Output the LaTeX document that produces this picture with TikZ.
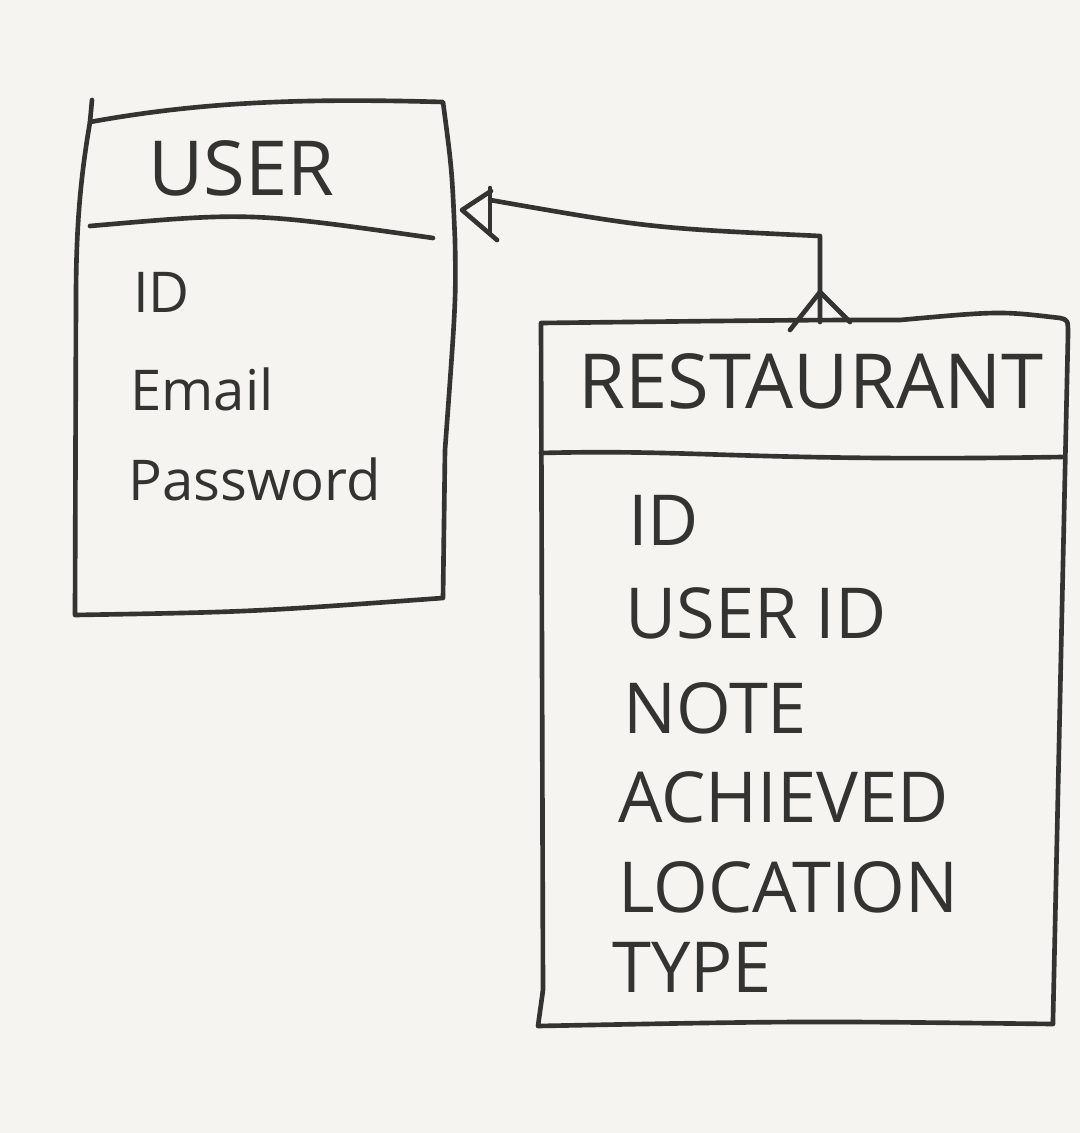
\documentclass[tikz,border=0pt]{standalone}
\usepackage{fontspec}
\setmainfont{Open Sans}
\usetikzlibrary{calc}
\definecolor{paper}{HTML}{F5F4F0}
\definecolor{ink}{HTML}{333331}

\begin{document}
\begin{tikzpicture}[x=0.025cm,y=-0.025cm,
  pen/.style={draw=ink,line width=3.3pt,line cap=round,line join=round},
  title/.style={inner sep=0pt,anchor=base west,text=ink,font=\fontsize{54}{58}\selectfont},
  ufield/.style={inner sep=0pt,anchor=base west,text=ink,font=\fontsize{40}{44}\selectfont},
  rfield/.style={inner sep=0pt,anchor=base west,text=ink,font=\fontsize{50}{54}\selectfont}
]
\fill[paper] (0,0) rectangle (1080,1133);
\useasboundingbox (0,0) rectangle (1080,1133);

% USER entity
\draw[pen] (92,100) -- (90,122);
\draw[pen] (90,122) .. controls (80,180) and (76,230) .. (76,300) -- (75,615)
  .. controls (250,612) .. (443,598) -- (445,450) .. controls (456,300) .. (455,240)
  .. controls (452,170) .. (443,102) .. controls (300,98) and (200,102) .. (90,122);
\draw[pen] (90,226) .. controls (250,212) .. (433,238);
\node[title] (user) at (148,195) {USER};
\node[ufield] (uid) at (133,312) {ID};
\node[ufield] (uemail) at (130,410) {Email};
\node[ufield] (upass) at (128,500) {Password};

% RESTAURANT entity
\draw[pen] (541,323) .. controls (800,320) .. (900,320) .. controls (1000,311) .. (1060,318)
  .. controls (1068,320) .. (1068,335) -- (1053,1020) -- (1053,1024)
  .. controls (800,1021) .. (538,1026) -- (543,990) -- (541,323);
\draw[pen] (541,453) .. controls (700,449) and (750,462) .. (1062,457);
\node[title] (restaurant) at (578,408) {RESTAURANT};
\node[rfield] (rid) at (628,545) {ID};
\node[rfield] (ruserid) at (625,638) {USER ID};
\node[rfield] (rnote) at (623,733) {NOTE};
\node[rfield] (rachieved) at (618,822) {ACHIEVED};
\node[rfield] (rlocation) at (618,912) {LOCATION};
\node[rfield] (rtype) at (612,992) {TYPE};

% relationship
\coordinate (uTip) at (462,210);
\coordinate (uSide) at (490,200);
\coordinate (rTop) at (820,322);
\coordinate (rFork) at (820,292);
\draw[pen] (490,188) -- (490,232);
\draw[pen] (491,191) -- (uTip) -- (497,240);
\draw[pen] (uSide) .. controls (650,228) .. (820,236) -- (rTop);
\draw[pen] (790,330) -- (rFork) -- (850,322);
\end{tikzpicture}
\end{document}
